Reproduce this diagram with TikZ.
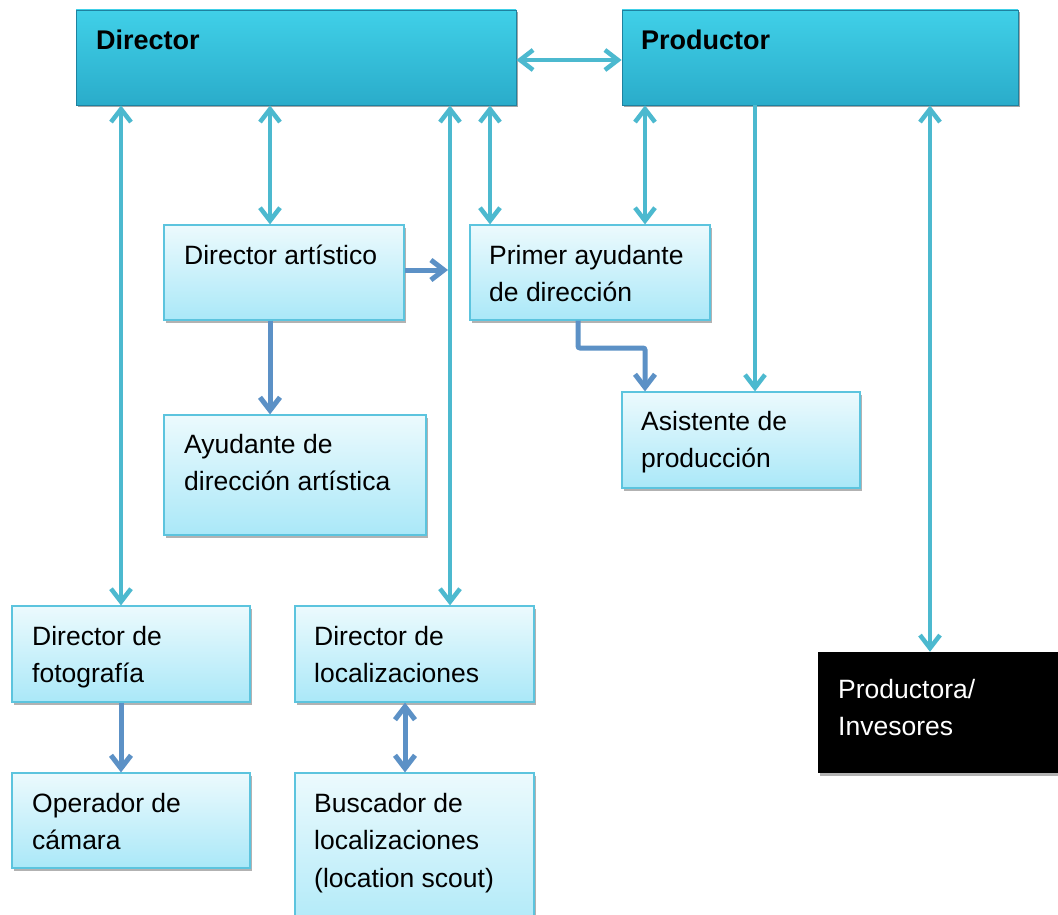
\documentclass[tikz,border=0pt]{standalone}
\usepackage{fontspec}
\setmainfont{Liberation Sans}
\usetikzlibrary{arrows.meta,shadows}
\definecolor{tealarr}{RGB}{76,185,207}
\definecolor{bluearr}{RGB}{92,145,198}
\definecolor{topA}{RGB}{64,208,232}
\definecolor{topB}{RGB}{42,172,202}
\definecolor{topEdge}{RGB}{30,130,160}
\definecolor{lightA}{RGB}{236,250,253}
\definecolor{lightB}{RGB}{170,232,248}
\definecolor{lightEdge}{RGB}{92,196,222}
\newcommand{\mlines}[1]{\begin{tabular}[t]{@{}l@{}}#1\end{tabular}}
\begin{document}
\begin{tikzpicture}[x=1pt,y=-1pt,
  >={Straight Barb[length=13pt,width=20pt]},
  topbox/.style={rectangle, draw=topEdge, line width=0.8pt, top color=topA, bottom color=topB,
    inner sep=0pt, drop shadow={shadow xshift=1.5pt, shadow yshift=-2.5pt, opacity=0.35, fill=black}},
  lightbox/.style={rectangle, draw=lightEdge, line width=1.2pt, top color=lightA, bottom color=lightB,
    inner sep=0pt, drop shadow={shadow xshift=1.5pt, shadow yshift=-2.5pt, opacity=0.3, fill=black}},
  darkbox/.style={rectangle, fill=black, inner sep=0pt,
    drop shadow={shadow xshift=1.5pt, shadow yshift=-2.5pt, opacity=0.3, fill=black}},
  lbl/.style={anchor=base west, inner sep=0pt, font=\fontsize{26.5}{37.5}\selectfont},
  ttl/.style={anchor=base west, inner sep=0pt, font=\fontsize{27}{37.5}\selectfont\bfseries},
  tarr/.style={draw=tealarr, line width=4.5pt},
  barr/.style={draw=bluearr, line width=5pt},
]
\useasboundingbox (0,0) rectangle (1058,915);
\fill[white] (0,0) rectangle (1058,915);

% boxes
\node[topbox, minimum width=440pt, minimum height=95pt] (dir) at (296,57.5) {};
\node[topbox, minimum width=396pt, minimum height=95pt] (prod) at (820,57.5) {};
\node[lightbox, minimum width=240pt, minimum height=95pt] (art) at (284,272.5) {};
\node[lightbox, minimum width=240pt, minimum height=95pt] (prim) at (590,272.5) {};
\node[lightbox, minimum width=262pt, minimum height=120pt] (ayu) at (295,475) {};
\node[lightbox, minimum width=238pt, minimum height=96pt] (asis) at (741,440) {};
\node[lightbox, minimum width=238pt, minimum height=96pt] (fot) at (131,654) {};
\node[lightbox, minimum width=239pt, minimum height=96pt] (loc) at (414.5,654) {};
\node[lightbox, minimum width=238pt, minimum height=95pt] (ope) at (131,820.5) {};
\node[lightbox, minimum width=239pt, minimum height=170pt] (bus) at (414.5,858) {};
\node[darkbox, minimum width=260pt, minimum height=121pt] (inv) at (948,712.5) {};

% texts
\node[ttl] (tdir) at (96,50) {Director};
\node[ttl] (tprod) at (641,50) {Productor};
\node[lbl] (tart) at (184,264) {Director artístico};
\node[lbl] (tprim) at (489,264) {\mlines{Primer ayudante\\de dirección}};
\node[lbl] (tayu) at (184,453) {\mlines{Ayudante de\\dirección artística}};
\node[lbl] (tasis) at (641,430) {\mlines{Asistente de\\producción}};
\node[lbl] (tfot) at (32,645) {\mlines{Director de\\fotografía}};
\node[lbl] (tloc) at (314,645) {\mlines{Director de\\localizaciones}};
\node[lbl] (tope) at (32,812) {\mlines{Operador de\\cámara}};
\node[lbl] (tbus) at (314,812) {\mlines{Buscador de\\localizaciones\\(location scout)}};
\node[lbl, text=white] (tinv) at (838,698) {\mlines{Productora/\\Invesores}};

% teal connectors
\draw[tarr, <->] (dir.east |- 0,60) -- (prod.west |- 0,60);
\draw[tarr, <->] (dir.south -| 121,0) -- (fot.north -| 121,0);
\draw[tarr, <->] (dir.south -| 270,0) -- (art.north -| 270,0);
\draw[tarr, <->] (dir.south -| 450,0) -- (loc.north -| 450,0);
\draw[tarr, <->] (dir.south -| 490,0) -- (prim.north -| 490,0);
\draw[tarr, <->] (prod.south -| 645,0) -- (prim.north -| 645,0);
\draw[tarr, ->] (prod.south -| 755,0) -- (asis.north -| 755,0);
\draw[tarr, <->] (prod.south -| 930,0) -- (inv.north -| 930,0);

% blue connectors
\coordinate (artend) at (448,270);
\draw[barr, ->] (art.east |- artend) -- (artend);
\draw[barr, ->] (art.south -| 270,0) -- (ayu.north -| 270,0);
\draw[barr, ->, rounded corners=2pt] (prim.south -| 578,0) -- (578,348) -- (645,348) -- (asis.north -| 645,0);
\draw[barr, ->] (fot.south -| 121,0) -- (ope.north -| 121,0);
\draw[barr, <->] (loc.south -| 405,0) -- (bus.north -| 405,0);
\end{tikzpicture}
\end{document}
